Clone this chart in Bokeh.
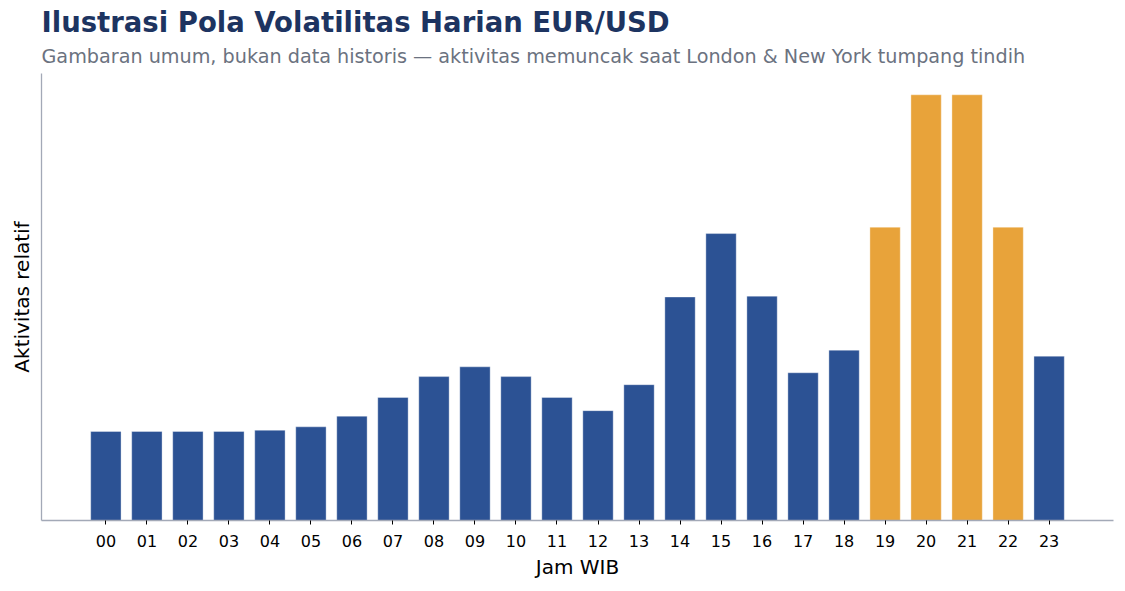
# Ilustrasi pola volatilitas harian EUR/USD (bar chart per jam WIB)
from bokeh.plotting import figure
from bokeh.models import Range1d, FixedTicker, Title, ColumnDataSource
from bokeh.embed import file_html
from bokeh.resources import INLINE

# data (aktivitas relatif, puncak = 1.0)
jam = ["00", "01", "02", "03", "04", "05", "06", "07", "08", "09", "10", "11",
       "12", "13", "14", "15", "16", "17", "18", "19", "20", "21", "22", "23"]
aktivitas = [0.209, 0.209, 0.209, 0.209, 0.212, 0.220, 0.245, 0.289, 0.338, 0.361, 0.338, 0.289,
             0.258, 0.319, 0.525, 0.674, 0.527, 0.347, 0.400, 0.689, 1.000, 1.000, 0.689, 0.386]
jam_tumpang_tindih = ["19", "20", "21", "22"]

BIRU = "#2c5294"
ORANYE = "#e8a33a"

source = ColumnDataSource(data={
    'x': list(range(len(jam))),
    'top': aktivitas,
    'warna': [ORANYE if j in jam_tumpang_tindih else BIRU for j in jam],
})

p = figure(width=1125, height=591,
           frame_width=1072, frame_height=447,
           x_range=Range1d(-1.57, len(jam) - 1 + 1.57),
           y_range=Range1d(0, 1.05),
           output_backend="svg", toolbar_location=None,
           min_border_left=41, min_border_right=12,
           min_border_top=73, min_border_bottom=71)

p.vbar(x='x', top='top', width=0.74, color='warna', line_color="white",
       line_alpha=0.35, line_width=1, source=source)

# judul (terjauh dari plot) & subjudul (terdekat)
p.title.text = "Ilustrasi Pola Volatilitas Harian EUR/USD"
p.title.text_font = "DejaVu Sans"
p.title.text_font_size = "27.5px"
p.title.text_font_style = "bold"
p.title.text_color = "#1d3461"
p.title.align = "left"
p.title.standoff = 0
p.add_layout(Title(text="Gambaran umum, bukan data historis — aktivitas memuncak saat London & New York tumpang tindih",
                   align="left", text_font="DejaVu Sans", text_font_size="19.2px",
                   text_font_style="normal", text_color="#6b7280", standoff=11), "above")

# sumbu
p.xgrid.grid_line_color = None
p.ygrid.grid_line_color = None
p.outline_line_color = None
p.background_fill_color = "white"

p.xaxis.ticker = FixedTicker(ticks=list(range(len(jam))))
p.xaxis.major_label_overrides = {i: j for i, j in enumerate(jam)}
p.xaxis.major_label_text_font = "DejaVu Sans"
p.xaxis.major_label_text_font_size = "16px"
p.xaxis.major_label_text_color = "black"
p.xaxis.major_tick_line_color = "black"
p.xaxis.major_tick_in = 0
p.xaxis.major_tick_out = 4
p.xaxis.minor_tick_line_color = None
p.xaxis.major_label_standoff = 10
p.xaxis.axis_label = "Jam WIB"
p.xaxis.axis_label_text_font = "DejaVu Sans"
p.xaxis.axis_label_text_font_size = "20px"
p.xaxis.axis_label_text_font_style = "normal"
p.xaxis.axis_label_text_color = "black"
p.xaxis.axis_label_standoff = 5

p.yaxis.ticker = FixedTicker(ticks=[])
p.yaxis.major_tick_line_color = None
p.yaxis.minor_tick_line_color = None
p.yaxis.axis_label = "Aktivitas relatif"
p.yaxis.axis_label_text_font = "DejaVu Sans"
p.yaxis.axis_label_text_font_size = "20px"
p.yaxis.axis_label_text_font_style = "normal"
p.yaxis.axis_label_text_color = "black"
p.yaxis.axis_label_standoff = 8

for ax in (p.xaxis, p.yaxis):
    ax.axis_line_color = "#a3a9b7"
    ax.axis_line_width = 1.3

open("out.html", "w").write(file_html(p, INLINE))
